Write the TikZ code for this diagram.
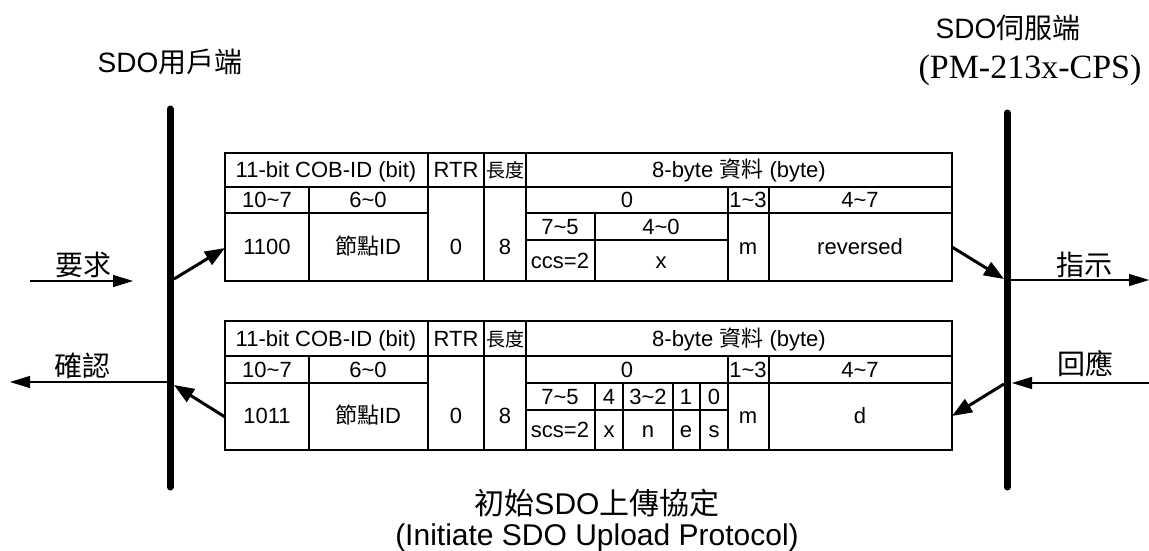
\documentclass[tikz,border=0pt]{standalone}
\usepackage{fontspec}
\setmainfont{Liberation Sans}
\newfontfamily\cjk{Noto Sans CJK TC}
\newfontfamily\pmserif{Liberation Serif}
\usetikzlibrary{arrows.meta, positioning}

\begin{document}
\begin{tikzpicture}[
		x=1pt, y=-1pt,
		grid/.style={line width=1.2pt},
		cell/.style={inner sep=0pt, text height=15.5pt, text depth=0pt, font=\fontsize{22}{24}\selectfont},
		side/.style={inner sep=0pt, font=\fontsize{28}{30}\selectfont\cjk},
		title/.style={inner sep=0pt, font=\fontsize{28}{30}\selectfont},
		bar/.style={line width=7pt, line cap=round},
		flow/.style={line width=1.2pt, -{Triangle[length=20pt, width=12pt]}},
		push/.style={line width=3pt, -{Triangle[length=20pt, width=15pt]}}
		]
		
		\useasboundingbox (0,0) rectangle (1149,550);
		
		% Titles
		\node[title] (client) at (170,62) {SDO{\cjk 用戶端}};
		\node[title] (server) at (1008,28) {SDO{\cjk 伺服端}};
		\node[inner sep=0pt, font=\fontsize{34}{36}\selectfont\pmserif] (model) at (1030,70) {(PM-213x-CPS)};
		
		% Bars
		\coordinate (clienttop) at (170,109);
		\coordinate (clientbot) at (170,487);
		\coordinate (servertop) at (1007,113);
		\coordinate (serverbot) at (1007,487);
		\draw[bar] (clienttop) -- (clientbot);
		\draw[bar] (servertop) -- (serverbot);
		
		% Request frame
		\draw[grid] (225,153) rectangle (952,281);
		\draw[grid] (225,187) -- (952,187);
		\draw[grid] (225,213) -- (428,213) (526,213) -- (952,213);
		\draw[grid] (526,240) -- (728,240);
		\draw[grid] (428,153) -- (428,281) (484,153) -- (484,281) (526,153) -- (526,281);
		\draw[grid] (309,187) -- (309,281) (728,187) -- (728,281) (769,187) -- (769,281);
		\draw[grid] (595,213) -- (595,281);
		
		\node[cell] (qcob) at (326,170) {11-bit COB-ID (bit)};
		\node[cell] (qrtr) at (456,170) {RTR};
		\node[cell, font=\fontsize{19}{20}\selectfont\cjk] (qlen) at (505,170) {長度};
		\node[cell] (qdata) at (739,170) {8-byte {\cjk 資料} (byte)};
		\node[cell] (qhi) at (267,200) {10\textasciitilde 7};
		\node[cell] (qlo) at (368,200) {6\textasciitilde 0};
		\node[cell] (qb0) at (627,200) {0};
		\node[cell] (qb13) at (748,200) {1\textasciitilde 3};
		\node[cell] (qb47) at (860,200) {4\textasciitilde 7};
		\node[cell] (qfn) at (267,247) {1100};
		\node[cell] (qnode) at (368,247) {{\cjk 節點}ID};
		\node[cell] (qrtrv) at (456,247) {0};
		\node[cell] (qlenv) at (505,247) {8};
		\node[cell] (qbits75) at (560,227) {7\textasciitilde 5};
		\node[cell] (qbits40) at (661,227) {4\textasciitilde 0};
		\node[cell] (qccs) at (560,261) {ccs=2};
		\node[cell] (qx) at (661,261) {x};
		\node[cell] (qm) at (748,247) {m};
		\node[cell] (qrest) at (860,247) {reversed};
		
		% Response frame
		\draw[grid] (225,321) rectangle (952,450);
		\draw[grid] (225,356) -- (952,356);
		\draw[grid] (225,383) -- (428,383) (526,383) -- (952,383);
		\draw[grid] (526,410) -- (728,410);
		\draw[grid] (428,321) -- (428,450) (484,321) -- (484,450) (526,321) -- (526,450);
		\draw[grid] (309,356) -- (309,450) (728,356) -- (728,450) (769,356) -- (769,450);
		\draw[grid] (595,383) -- (595,450) (623,383) -- (623,450) (673,383) -- (673,450) (700,383) -- (700,450);
		
		\node[cell] (scob) at (326,339) {11-bit COB-ID (bit)};
		\node[cell] (srtr) at (456,339) {RTR};
		\node[cell, font=\fontsize{19}{20}\selectfont\cjk] (slen) at (505,339) {長度};
		\node[cell] (sdata) at (739,339) {8-byte {\cjk 資料} (byte)};
		\node[cell] (shi) at (267,370) {10\textasciitilde 7};
		\node[cell] (slo) at (368,370) {6\textasciitilde 0};
		\node[cell] (sb0) at (627,370) {0};
		\node[cell] (sb13) at (748,370) {1\textasciitilde 3};
		\node[cell] (sb47) at (860,370) {4\textasciitilde 7};
		\node[cell] (sfn) at (267,416) {1011};
		\node[cell] (snode) at (368,416) {{\cjk 節點}ID};
		\node[cell] (srtrv) at (456,416) {0};
		\node[cell] (slenv) at (505,416) {8};
		\node[cell] (sbits75) at (560,397) {7\textasciitilde 5};
		\node[cell] (sbit4) at (609,397) {4};
		\node[cell] (sbits32) at (648,397) {3\textasciitilde 2};
		\node[cell] (sbit1) at (686,397) {1};
		\node[cell] (sbit0) at (714,397) {0};
		\node[cell] (sscs) at (560,430) {scs=2};
		\node[cell] (sx) at (609,430) {x};
		\node[cell] (sn) at (648,430) {n};
		\node[cell] (se) at (686,430) {e};
		\node[cell] (ss) at (714,430) {s};
		\node[cell] (sm) at (748,416) {m};
		\node[cell] (sd) at (860,416) {d};
		
		% Service primitives
		\node[side] (request) at (83,265) {要求};
		\node[side] (confirm) at (82,366) {確認};
		\node[side] (indication) at (1084,265) {指示};
		\node[side] (response) at (1085,364) {回應};
		
		\coordinate (reqsrc) at (30,281);
		\coordinate (reqtip) at (133,281);
		\coordinate (cnfsrc) at (170,382);
		\coordinate (cnftip) at (10,382);
		\coordinate (indsrc) at (1007,280);
		\coordinate (indtip) at (1149,280);
		\coordinate (ressrc) at (1149,383);
		\coordinate (restip) at (1012,383);
		
		\draw[flow] (reqsrc) -- (reqtip);
		\draw[flow] (cnfsrc) -- (cnftip);
		\draw[flow] (indsrc) -- (indtip);
		\draw[flow] (ressrc) -- (restip);
		
		% Frames in and out of the bars
		\coordinate (reqout) at (174,279);
		\coordinate (reqin) at (225,248);
		\coordinate (indout) at (952,247);
		\coordinate (indin) at (1004,279);
		\coordinate (resout) at (1004,384);
		\coordinate (resin) at (952,416);
		\coordinate (cnfout) at (225,417);
		\coordinate (cnfin) at (174,385);
		
		\draw[push] (reqout) -- (reqin);
		\draw[push] (indout) -- (indin);
		\draw[push] (resout) -- (resin);
		\draw[push] (cnfout) -- (cnfin);
		
		% Caption
		\node[inner sep=0pt, font=\fontsize{30}{32}\selectfont] (captcn) at (597,503) {{\cjk 初始}SDO{\cjk 上傳協定}};
		\node[inner sep=0pt, font=\fontsize{30}{32}\selectfont, below=6pt of captcn] (capten) {(Initiate SDO Upload Protocol)};
		
	\end{tikzpicture}
\end{document}
